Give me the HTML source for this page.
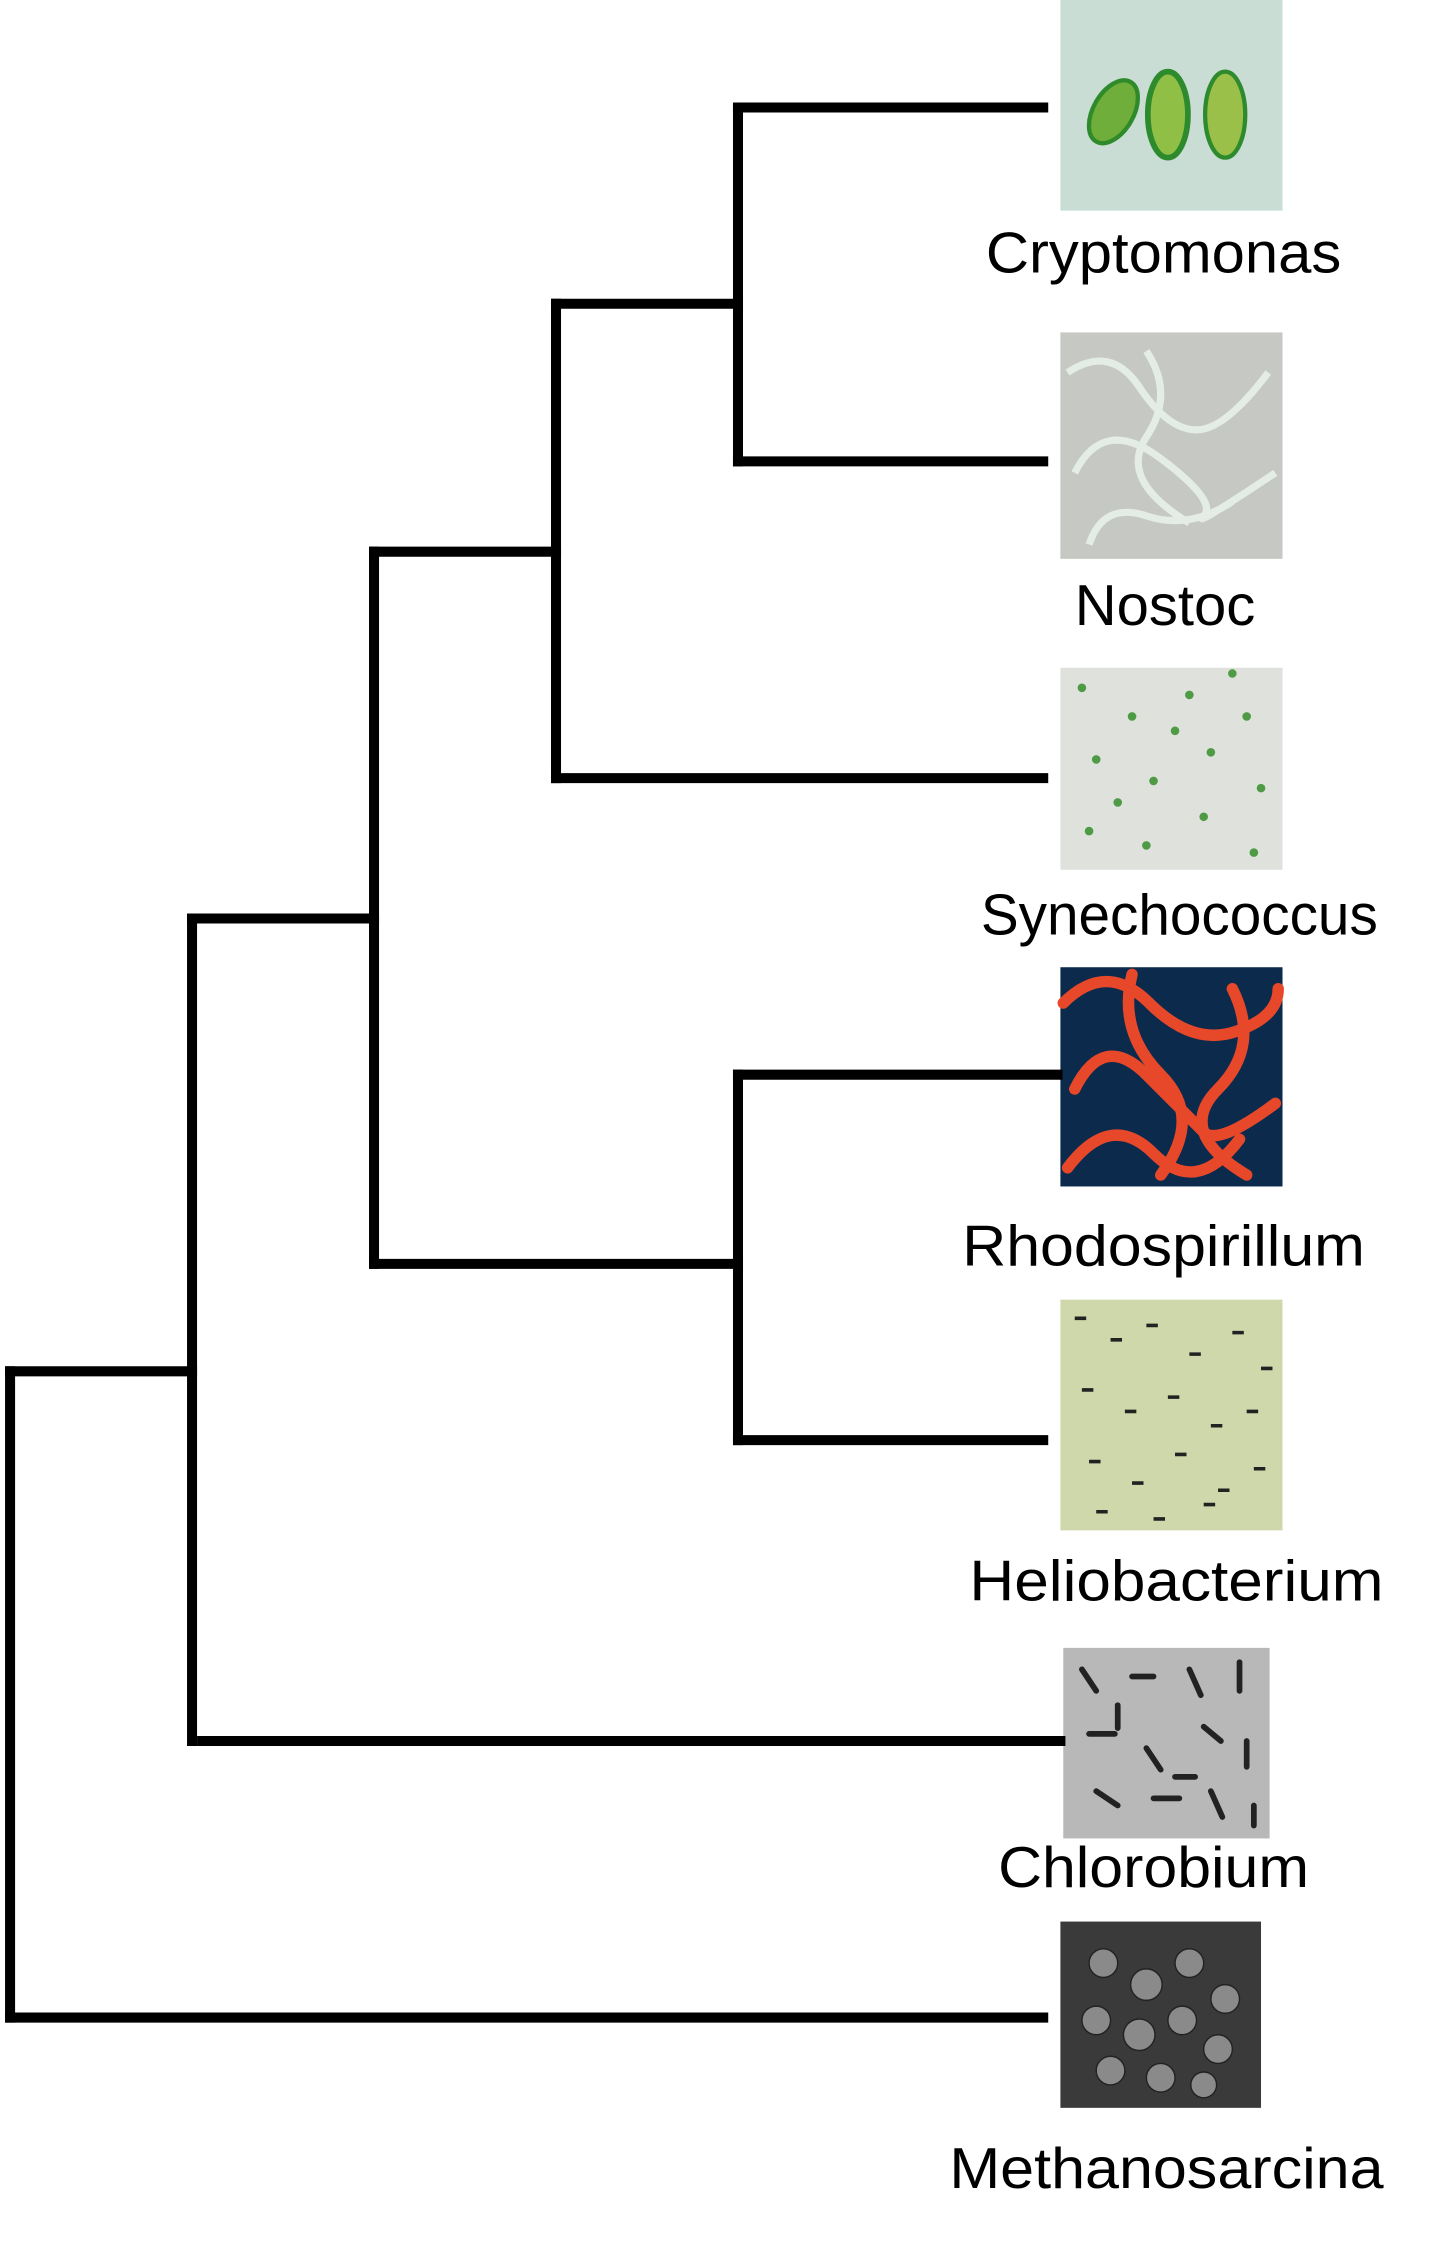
<!DOCTYPE html>
<html><head><meta charset="utf-8"><style>
html,body{margin:0;padding:0;background:#fff;width:1433px;height:2254px;overflow:hidden}
svg{display:block}
text{font-family:"Liberation Sans",sans-serif;fill:#000}
</style></head><body>
<svg id="tree" width="1433" height="2254" viewBox="0 0 1000 1573" xmlns="http://www.w3.org/2000/svg">
<g id="pics">
 <g>
  <rect x="740" y="0" width="155" height="147" fill="#c9ddd5"/>
  <ellipse cx="777" cy="78" rx="14" ry="24" transform="rotate(30 777 78)" fill="#6fae3a" stroke="#2f8a2a" stroke-width="3"/>
  <ellipse cx="815" cy="80" rx="14" ry="30" fill="#8fbf45" stroke="#2d8a2d" stroke-width="4"/>
  <ellipse cx="855" cy="80" rx="14" ry="30" fill="#9ac04a" stroke="#2d8a2d" stroke-width="3"/>
 </g>
 <g>
  <rect x="740" y="232" width="155" height="158" fill="#c6c8c3"/>
  <path d="M745 260 q30 -20 50 10 t40 30 t50 -40 M750 330 q20 -40 60 -10 t30 40 t50 -30 M760 380 q10 -30 40 -20 t60 -10 M800 245 q20 30 0 60 t30 60" fill="none" stroke="#e4ece6" stroke-width="5"/>
 </g>
 <g>
  <rect x="740" y="466" width="155" height="141" fill="#dfe2dc"/>
  <g fill="#4f9a45">
   <circle cx="755" cy="480" r="3"/><circle cx="790" cy="500" r="3"/><circle cx="830" cy="485" r="3"/><circle cx="870" cy="500" r="3"/>
   <circle cx="765" cy="530" r="3"/><circle cx="805" cy="545" r="3"/><circle cx="845" cy="525" r="3"/><circle cx="880" cy="550" r="3"/>
   <circle cx="760" cy="580" r="3"/><circle cx="800" cy="590" r="3"/><circle cx="840" cy="570" r="3"/><circle cx="875" cy="595" r="3"/>
   <circle cx="820" cy="510" r="3"/><circle cx="780" cy="560" r="3"/><circle cx="860" cy="470" r="3"/>
  </g>
 </g>
 <g>
  <rect x="740" y="675" width="155" height="153" fill="#0c2a4c"/>
  <path d="M742 700 q30 -30 60 0 t60 20 t30 -30 M750 760 q20 -40 50 -10 t40 40 t50 -20 M745 815 q30 -40 60 -10 t60 -10 M790 680 q-10 40 20 70 t0 70 M860 690 q20 40 -10 70 t20 60" fill="none" stroke="#e8482a" stroke-width="8" stroke-linecap="round"/>
 </g>
 <g>
  <rect x="740" y="907" width="155" height="161" fill="#cfd8ab"/>
  <path d="M750 920h8M775 935h8M800 925h8M830 945h8M860 930h8M880 955h8M755 970h8M785 985h8M815 975h8M845 995h8M870 985h8M760 1020h8M790 1035h8M820 1015h8M850 1040h8M875 1025h8M765 1055h8M805 1060h8M840 1050h8" stroke="#222" stroke-width="2.5"/>
 </g>
 <g>
  <rect x="742" y="1150" width="144" height="133" fill="#b8b8b8"/>
  <path d="M755 1165l10 15M790 1170h15M830 1165l8 18M865 1160v20M760 1210h18M800 1220l10 15M840 1205l12 10M870 1215v18M765 1250l15 10M805 1255h18M845 1250l8 18M875 1260v14M780 1190v16M820 1240h14" stroke="#222" stroke-width="4" stroke-linecap="round"/>
 </g>
 <g>
  <rect x="740" y="1341" width="140" height="130" fill="#3a3a3a"/>
  <g fill="#8a8a8a" stroke="#222" stroke-width="1">
   <circle cx="770" cy="1370" r="10"/><circle cx="800" cy="1385" r="11"/><circle cx="830" cy="1370" r="10"/><circle cx="855" cy="1395" r="10"/>
   <circle cx="765" cy="1410" r="10"/><circle cx="795" cy="1420" r="11"/><circle cx="825" cy="1410" r="10"/><circle cx="850" cy="1430" r="10"/>
   <circle cx="775" cy="1445" r="10"/><circle cx="810" cy="1450" r="10"/><circle cx="840" cy="1455" r="9"/>
  </g>
 </g>
</g>
<g id="branches"></g>
<g id="labels"></g>
</svg>
<script>
// leaf data
const leafNames = ["Cryptomonas","Nostoc","Synechococcus","Rhodospirillum","Heliobacterium","Chlorobium","Methanosarcina"];
const leafY = [75, 322, 543, 750, 1005, 1215, 1408];
const leafEnd = [728, 728, 728, 738, 728, 740, 728];
const labelCX = [812, 813, 823, 812, 821, 805, 814];
const labelBase = [190, 436, 652, 883, 1117, 1317, 1527];
const labelWidth = [248, 126, 277, 281, 289, 217, 303];
// internal nodes (ids 7..12): children, depth, y
const nodeChildA = [0, 7, 3, 8, 10, 11];
const nodeChildB = [1, 2, 4, 9, 5, 6];
const nodeDepth = [4, 3, 4, 2, 1, 0];
const nodeY = [212, 385, 882, 641, 957, 957];
const xScale = d => 7 + d * 127;
const g = document.getElementById('branches');
const ns = "http://www.w3.org/2000/svg";
const Y = [], X = [];
leafNames.forEach((n,i)=>{Y[i]=leafY[i];});
function line(x1,y1,x2,y2,name){
  const l=document.createElementNS(ns,'line');
  l.setAttribute('x1',x1);l.setAttribute('y1',y1);l.setAttribute('x2',x2);l.setAttribute('y2',y2);
  l.setAttribute('stroke','#000');l.setAttribute('stroke-width','7');l.setAttribute('stroke-linecap','square');
  
  
  g.appendChild(l);
}
const parentX = {};
nodeChildA.forEach((a,k)=>{
  const id=7+k, b=nodeChildB[k], x=xScale(nodeDepth[k]);
  Y[id]=nodeY[k]; X[id]=x;
  parentX[a]=x; parentX[b]=x;
  line(x,Y[a],x,Y[b],'node-'+id+'-vertical');
});
for(let i=0;i<7;i++){ line(parentX[i]+(i===5?7:0),Y[i],leafEnd[i],Y[i],'branch-'+leafNames[i].toLowerCase()); }
for(let id=7;id<12;id++){ line(parentX[id],Y[id],X[id],Y[id],'branch-node-'+id); }
const lg=document.getElementById('labels');
leafNames.forEach((n,i)=>{
  const t=document.createElementNS(ns,'text');
  t.setAttribute('x',labelCX[i]-labelWidth[i]/2);t.setAttribute('y',labelBase[i]);
  t.setAttribute('font-size','40');t.setAttribute('textLength',labelWidth[i]);t.setAttribute('lengthAdjust','spacingAndGlyphs');
  t.textContent=n;
  
  
  lg.appendChild(t);
});
</script>
</body></html>
